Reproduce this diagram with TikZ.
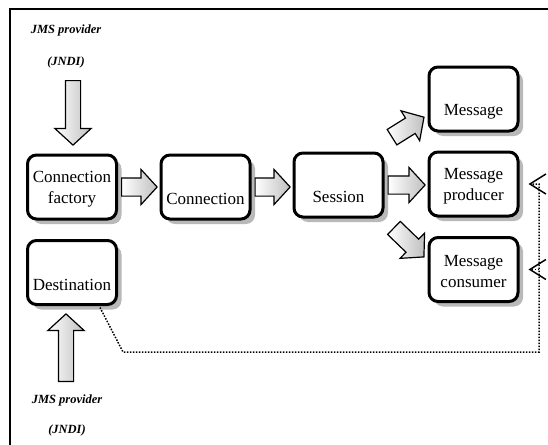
\documentclass[tikz,border=0pt]{standalone}
\usepackage{fontspec}
\setmainfont{Liberation Serif}
\usetikzlibrary{shapes.arrows,shadows,calc,arrows.meta}

\tikzset{
  box/.style={draw, line width=3pt, rounded corners=9pt, fill=white,
    minimum width=89pt, minimum height=64pt, align=center, inner sep=2pt,
    font=\fontsize{17}{21}\selectfont,
    drop shadow={shadow xshift=5pt, shadow yshift=-5pt, fill=gray!55, opacity=1}},
  fat/.style={single arrow, draw, line width=1.2pt,
    single arrow head extend=8.5pt, single arrow tip angle=95,
    inner xsep=0pt, inner ysep=8.5pt,
    left color=white, right color=gray!50},
  slimfat/.style={fat, inner ysep=7pt, single arrow head extend=10.5pt},
  provider/.style={font=\fontsize{12.5}{14}\selectfont\bfseries\itshape},
  link/.style={line width=1.5pt, dash pattern=on 1.5pt off 1.5pt},
  barb/.style={-{Straight Barb[length=16pt,width=20pt]}}
}

% fat block arrow from #2 (tail) to #3 (tip), style #1
\newcommand\blockarrow[3][fat]{%
  \path let \p1=(#2), \p2=(#3),
    \n1={atan2(\y2-\y1,\x2-\x1)}, \n2={veclen(\x2-\x1,\y2-\y1)} in
    node[#1, minimum height=\n2, rotate=\n1, anchor=tail] at (\p1) {};}

\begin{document}
\begin{tikzpicture}[x=1pt,y=-1pt]
\useasboundingbox (0,0) rectangle (548,444);
\clip (0,0) rectangle (548,444);

% frame
\draw[line width=2pt] (10,470) -- (10,9) -- (570,9);

% provider labels
\node[provider] (prov1) at (66,30) {JMS provider};
\node[provider] (jndi1) at (66,62) {(JNDI)};
\node[provider] (prov2) at (67,400) {JMS provider};
\node[provider] (jndi2) at (67,430) {(JNDI)};

% corners of the dotted dependency path
\coordinate (d1) at (123,352);
\coordinate (d2) at (539,352);

% boxes
\node[box] (cf)   at (72,187)    {\strut Connection\\factory};
\node[box] (conn) at (205.5,187) {\strut\\Connection};
\node[box] (dest) at (72,272.5)  {\strut\\Destination};
\node[box] (sess) at (338.5,185) {\strut\\Session};
\node[box] (msg)  at (473.5,99)  {\strut\\Message};
\node[box] (prod) at (473.5,184) {\strut Message\\producer};
\node[box] (cons) at (473.5,269.5) {\strut Message\\consumer};

\draw[link, barb] ($(dest.south east)+(-18,1.5)$) -- (d1) -- (d2) |- ($(prod.east)+(9,0)$);
\draw[link, barb] (d2 |- cons.east) -- ($(cons.east)+(9,0)$);

% block arrows
\blockarrow[slimfat]{$(jndi1)+(7,18)$}{$(cf.north)+(1,-9)$}
\blockarrow[slimfat]{$(prov2)+(-1,-18)$}{$(dest.south)+(-6,8.5)$}
\blockarrow{$(cf.east)+(3,0)$}{$(conn.west)+(-3,0)$}
\blockarrow{$(conn.east)+(3,0)$}{$(conn.east -| sess.west)+(-3,0)$}
\blockarrow{$(sess.east)+(3,0)$}{$(sess.east -| prod.west)+(-3,0)$}
\blockarrow{$(sess.north east)+(7,-14)$}{$(msg.south west)+(-4,-15)$}
\blockarrow{$(sess.south east)+(9,9)$}{$(cons.north west)+(-4,20.5)$}
\end{tikzpicture}
\end{document}
